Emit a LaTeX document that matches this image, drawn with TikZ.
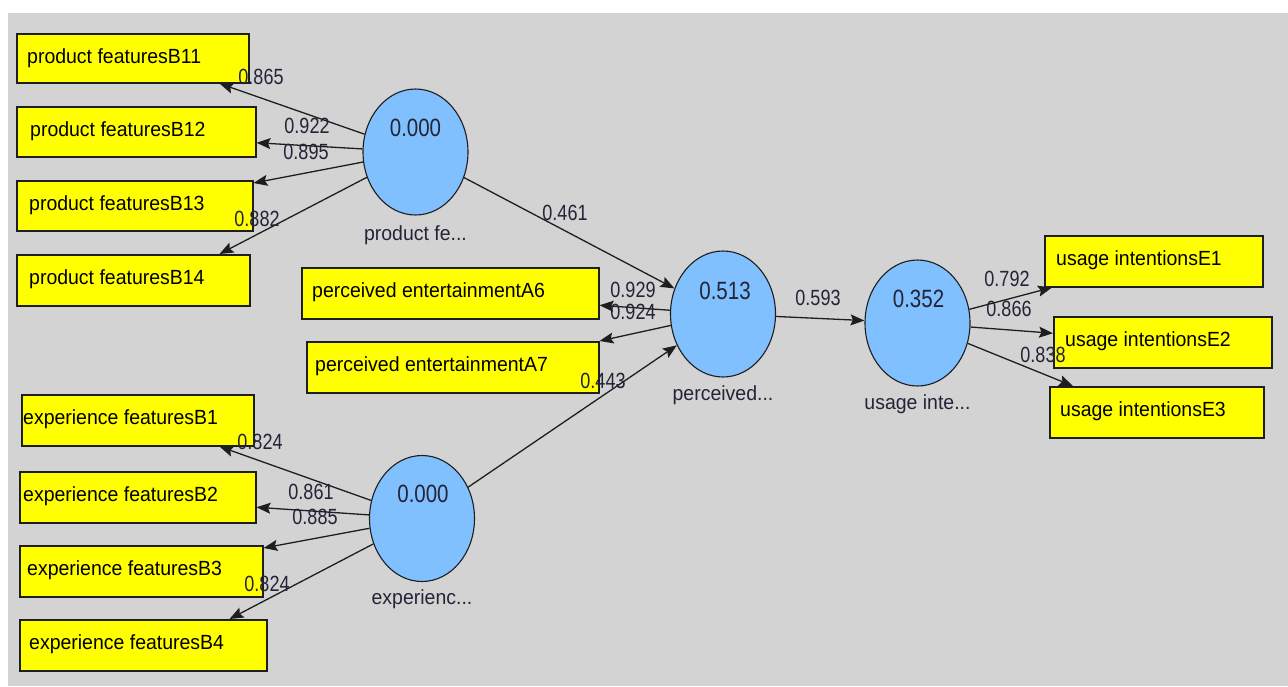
\documentclass[tikz,border=0pt]{standalone}
\usepackage{fontspec}
\setmainfont{Liberation Sans}
\newfontfamily\boxfont[FakeStretch=0.95]{Liberation Sans}
\newfontfamily\numfont[FakeStretch=0.82]{Liberation Sans}
\usetikzlibrary{arrows.meta,shapes.geometric,calc}
\definecolor{bg}{RGB}{211,211,211}
\definecolor{lvblue}{RGB}{128,192,255}
\definecolor{numcol}{RGB}{35,37,55}
\definecolor{edgecol}{RGB}{30,30,30}
\definecolor{boxyellow}{RGB}{255,255,0}
\newcommand\mvbox[7]{%
  \node[box,minimum width={#4-#2},minimum height={#5-#3}] (#1) at (#2,#3) {};
  \node[boxtext] (#1t) at (#6,#3+30) {#7};}
\begin{document}
\begin{tikzpicture}[x=1pt,y=-1pt,
  box/.style={draw=edgecol,line width=1.5pt,fill=boxyellow,inner sep=0pt,anchor=north west},
  boxtext/.style={anchor=base west,inner sep=0pt,font=\boxfont\fontsize{20.5}{24}\selectfont,text=black},
  lv/.style={ellipse,draw=edgecol,line width=1.1pt,fill=lvblue,minimum width=105pt,minimum height=126pt,inner sep=0pt},
  lvnum/.style={inner sep=0pt,font=\numfont\fontsize{25}{28}\selectfont,text=numcol},
  lvname/.style={anchor=base,inner sep=0pt,font=\boxfont\fontsize{20.5}{24}\selectfont,text=numcol},
  coef/.style={inner sep=0pt,font=\numfont\fontsize{22}{26}\selectfont,text=numcol},
  link/.style={draw=edgecol,line width=1.3pt,-{Stealth[length=14pt,width=11pt,inset=2.5pt]}}]
\useasboundingbox (0,0) rectangle (1288,686);
\fill[white] (0,0) rectangle (1288,686);
\fill[bg] (8,13) rectangle (1288,686);

% indicator boxes
\mvbox{b11}{16}{33}{248}{82}{27}{product featuresB11}
\mvbox{b12}{16}{106}{255}{156}{30}{product featuresB12}
\mvbox{b13}{16}{180}{252}{230}{29}{product featuresB13}
\mvbox{b14}{16}{254}{249}{305}{29}{product featuresB14}
\mvbox{a6}{301}{267}{598}{318}{312}{perceived entertainmentA6}
\mvbox{a7}{306}{341}{598}{392}{315}{perceived entertainmentA7}
\mvbox{e1}{1044}{235}{1262}{286}{1056}{usage intentionsE1}
\mvbox{e2}{1053}{316}{1271}{367}{1065}{usage intentionsE2}
\mvbox{e3}{1049}{386}{1263}{437}{1060}{usage intentionsE3}
\mvbox{x1}{21}{394}{253}{445}{23}{experience featuresB1}
\mvbox{x2}{19}{471}{255}{522}{23}{experience featuresB2}
\mvbox{x3}{19}{545}{262}{596}{27}{experience featuresB3}
\mvbox{x4}{19}{619}{266}{670}{29}{experience featuresB4}

% latent variables
\node[lv] (pf) at (415.5,152) {};
\node[lv] (pe) at (723,314) {};
\node[lv] (ui) at (917.5,323) {};
\node[lv] (ef) at (422,518.5) {};
\node[lvnum] (pfn) at ($(pf)+(0,-24)$) {0.000};
\node[lvnum] (pen) at ($(pe)+(2,-23)$) {0.513};
\node[lvnum] (uin) at ($(ui)+(1,-24)$) {0.352};
\node[lvnum] (efn) at ($(ef)+(1,-25)$) {0.000};
\node[lvname] (pfl) at ($(pf)+(0,88)$) {product fe...};
\node[lvname] (pel) at ($(pe)+(0,86)$) {perceived...};
\node[lvname] (uil) at ($(ui)+(0,86)$) {usage inte...};
\node[lvname] (efl) at ($(ef)+(0,86)$) {experienc...};

% links
\draw[link] (pf) -- ([xshift=-30pt]b11.south east);
\draw[link] (pf) -- ([yshift=-11pt]b12.east);
\draw[link] (pf) -- ([yshift=-3pt]b13.north east);
\draw[link] (pf) -- ([xshift=-31pt]b14.north east);
\draw[link] (pf) -- (pe);
\draw[link] (pe) -- ([yshift=-12pt]a6.east);
\draw[link] (pe) -- (a7.north east);
\draw[link] (ef) -- (pe);
\draw[link] (pe) -- (ui);
\draw[link] (ui) -- ([xshift=8pt]e1.south west);
\draw[link] (ui) -- ([yshift=9pt]e2.west);
\draw[link] (ui) -- ([xshift=24pt]e3.north west);
\draw[link] (ef) -- ([xshift=-35pt]x1.south east);
\draw[link] (ef) -- ([yshift=-10pt]x2.east);
\draw[link] (ef) -- ([yshift=-3pt]x3.north east);
\draw[link] (ef) -- ([xshift=-38pt]x4.north east);

% coefficients
\node[coef] (c1) at (261,77) {0.865};
\node[coef] (c2) at (307,126) {0.922};
\node[coef] (c3) at (306,152) {0.895};
\node[coef] (c4) at (257,219) {0.882};
\node[coef] (c5) at (565,213) {0.461};
\node[coef] (c6) at (633,290) {0.929};
\node[coef] (c7) at (633,312) {0.924};
\node[coef] (c8) at (603,381) {0.443};
\node[coef] (c9) at (818,298) {0.593};
\node[coef] (c10) at (1007,279) {0.792};
\node[coef] (c11) at (1009,309) {0.866};
\node[coef] (c12) at (1043,355) {0.838};
\node[coef] (c13) at (260,442) {0.824};
\node[coef] (c14) at (311,492) {0.861};
\node[coef] (c15) at (315,517) {0.885};
\node[coef] (c16) at (267,584) {0.824};
\end{tikzpicture}
\end{document}
